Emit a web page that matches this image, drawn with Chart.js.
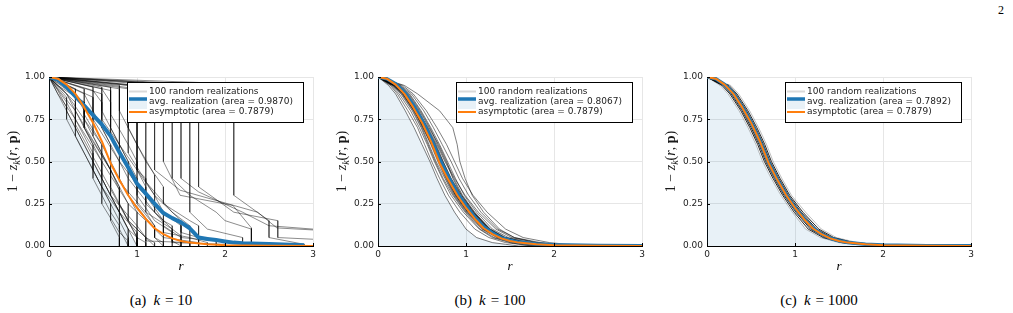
<!DOCTYPE html>
<html><head><meta charset="utf-8">
<script src="https://cdn.jsdelivr.net/npm/chart.js@4.4.1/dist/chart.umd.min.js"></script>
<style>
html,body{margin:0;padding:0;background:#fff;width:1013px;height:313px;overflow:hidden;position:relative}
canvas{position:absolute;top:60px}
.cap{position:absolute;top:291px;width:200px;text-align:center;font-family:'Liberation Serif','Times New Roman',serif;font-size:15px;line-height:18px;color:#000;white-space:nowrap}
.cap i{margin:0 5px 0 7px}
.pg{position:absolute;left:998px;top:3px;font-family:'Liberation Serif',serif;font-size:12px;color:#000}
</style></head><body>
<div class="pg">2</div>
<canvas id="ca" width="330" height="220" style="left:0px"></canvas>
<canvas id="cb" width="330" height="220" style="left:329px"></canvas>
<canvas id="cc" width="330" height="220" style="left:658px"></canvas>
<div class="cap" style="left:61px">(a)<i>k</i>= 10</div>
<div class="cap" style="left:390px">(b)<i>k</i>= 100</div>
<div class="cap" style="left:719px">(c)<i>k</i>= 1000</div>
<script>
// ---------- data ----------
const X_TICKS = [0, 1, 2, 3];
const X_TICK_LABELS = ['0', '1', '2', '3'];
const Y_TICKS = [0, 0.25, 0.5, 0.75, 1];
const Y_TICK_LABELS = ['0.00', '0.25', '0.50', '0.75', '1.00'];

const LEGEND_REAL = '100 random realizations';
const AREA_AVG = ['0.9870', '0.8067', '0.7892'];
const AREA_ASYMP = '0.7879';

// asymptotic curve (same in all panels)
const ASYMP_R = [0, 0.1, 0.2, 0.3, 0.4, 0.5, 0.6, 0.7, 0.8, 0.9, 1.0, 1.1, 1.2, 1.3, 1.4, 1.5, 1.6, 1.8, 2.0, 2.5, 3.0];
const ASYMP_Y = [1.0, 0.99, 0.955, 0.90, 0.82, 0.73, 0.62, 0.49, 0.39, 0.30, 0.225, 0.16, 0.105, 0.07, 0.045, 0.03, 0.02, 0.01, 0.005, 0.001, 0.0];

// average realization, k = 10
const AVG_A_R = [0, 0.1, 0.2, 0.3, 0.4, 0.5, 0.6, 0.7, 0.8, 0.9, 1.0, 1.1, 1.2, 1.3, 1.4, 1.5, 1.6, 1.7, 1.8, 1.9, 2.0, 2.1, 2.2, 2.5, 2.9];
const AVG_A_Y = [1.0, 0.985, 0.94, 0.885, 0.83, 0.775, 0.72, 0.65, 0.555, 0.465, 0.37, 0.31, 0.25, 0.195, 0.165, 0.14, 0.105, 0.05, 0.042, 0.035, 0.027, 0.02, 0.017, 0.012, 0.005];
// average realization, k = 100
const AVG_B_R = [0, 0.1, 0.2, 0.3, 0.4, 0.5, 0.6, 0.7, 0.8, 0.9, 1.0, 1.1, 1.2, 1.3, 1.4, 1.5, 1.6, 1.8, 2.0, 2.5, 3.0];
const AVG_B_Y = [1.0, 0.99, 0.96, 0.91, 0.835, 0.745, 0.64, 0.515, 0.41, 0.315, 0.24, 0.17, 0.115, 0.078, 0.05, 0.034, 0.023, 0.012, 0.007, 0.003, 0.001];
// average realization, k = 1000
const AVG_C_R = [0, 0.1, 0.2, 0.3, 0.4, 0.5, 0.6, 0.7, 0.8, 0.9, 1.0, 1.1, 1.2, 1.3, 1.4, 1.5, 1.6, 1.8, 2.0, 2.5, 3.0];
const AVG_C_Y = [1.0, 0.99, 0.956, 0.902, 0.823, 0.733, 0.623, 0.493, 0.393, 0.302, 0.227, 0.162, 0.107, 0.071, 0.046, 0.031, 0.021, 0.011, 0.006, 0.002, 0.001];

// realizations k = 10 : [r, y] vertices
const REAL_A = [
 [[0,1],[0.1,0.9],[1.0,0.0]],
 [[0,1],[0.1,0.92],[0.2,0.82],[0.2,0.75],[0.9,0.05],[0.9,0]],
 [[0,1],[0.2,0.9],[0.3,0.8],[0.3,0.72],[1.0,0.05],[1.0,0]],
 [[0,1],[0.3,0.9],[0.4,0.8],[0.4,0.7],[0.6,0.5],[0.6,0.4],[0.9,0.1],[1.0,0.05],[1.0,0]],
 [[0,1],[0.1,0.95],[0.4,0.85],[0.4,0.75],[0.8,0.35],[0.8,0.25],[1.0,0.05],[1.1,0.02],[1.1,0]],
 [[0,1],[0.4,0.9],[0.5,0.8],[0.5,0.65],[0.8,0.35],[0.9,0.25],[0.9,0.15],[1.1,0.05],[1.2,0.02],[1.2,0]],
 [[0,1],[0.5,0.92],[0.6,0.85],[0.6,0.7],[0.9,0.4],[0.9,0.3],[1.2,0.1],[1.3,0.05],[1.3,0]],
 [[0,1],[0.2,0.85],[0.5,0.55],[0.5,0.45],[0.7,0.25],[0.7,0.15],[0.8,0.05],[0.8,0]],
 [[0,1],[0.6,0.93],[0.7,0.85],[0.7,0.7],[1.0,0.4],[1.0,0.3],[1.2,0.15],[1.4,0.08],[1.4,0]],
 [[0,1],[0.8,0.93],[0.8,0.8],[1.0,0.6],[1.0,0.45],[1.2,0.3],[1.3,0.2],[1.3,0.12],[1.5,0.05],[1.5,0]],
 [[0,1],[1.0,0.93],[1.0,0.6],[1.2,0.42],[1.2,0.3],[1.5,0.15],[1.5,0.08],[1.7,0.05],[1.7,0]],
 [[0,1],[1.1,0.94],[1.1,0.5],[1.3,0.35],[1.3,0.25],[1.6,0.15],[1.7,0.12],[1.7,0]],
 [[0,1],[1.2,0.94],[1.2,0.45],[1.49,0.33],[2.37,0.2],[2.59,0.107],[3.0,0.095]],
 [[0,1],[1.3,0.95],[1.3,0.5],[1.49,0.30],[2.09,0.24],[2.3,0.107],[2.3,0]],
 [[0,1],[1.7,0.95],[1.7,0.35],[2.1,0.2],[2.6,0.15],[2.6,0.05],[3.0,0.04]],
 [[0,1],[2.1,0.96],[2.1,0.3],[2.5,0.15],[2.5,0.05],[2.9,0.01],[2.9,0]],
 [[0,1],[0.3,0.85],[0.3,0.75],[0.6,0.5],[0.6,0.35],[0.8,0.2],[0.9,0.1],[0.9,0]],
 [[0,1],[0.1,0.93],[0.3,0.8],[0.7,0.45],[0.7,0.3],[1.0,0.12],[1.1,0.05],[1.1,0]],
 [[0,1],[0.9,0.93],[0.9,0.7],[1.1,0.5],[1.1,0.38],[1.4,0.2],[1.6,0.12],[1.6,0.05],[1.8,0.02],[1.8,0]],
 [[0,1],[0.7,0.92],[0.7,0.78],[0.9,0.6],[1.0,0.5],[1.0,0.35],[1.3,0.2],[1.5,0.12],[1.5,0.05],[1.9,0.03],[1.9,0]],
 [[0,1],[0.5,0.88],[0.5,0.75],[0.8,0.5],[0.8,0.38],[1.1,0.2],[1.2,0.12],[1.2,0.05],[1.3,0]],
 [[0,1],[0.4,0.85],[0.4,0.7],[0.7,0.45],[0.8,0.33],[0.8,0.2],[1.0,0.08],[1.0,0]],
 [[0,1],[1.5,0.95],[1.5,0.4],[1.7,0.32],[2.2,0.2],[2.5,0.12],[3.0,0.1]],
 [[0,1],[0.2,0.9],[0.6,0.6],[0.6,0.5],[0.9,0.25],[1.1,0.15],[1.1,0.03],[1.6,0.02],[1.6,0]],
 [[0,1],[0.6,0.9],[0.6,0.75],[0.8,0.6],[0.8,0.5],[1.1,0.3],[1.1,0.2],[1.4,0.1],[1.4,0.02],[2.0,0.01],[2.0,0]],
 [[0,1],[0.3,0.93],[0.3,0.8],[0.5,0.6],[0.5,0.5],[0.8,0.2],[0.8,0.1],[0.9,0]],
 [[0,1],[0.4,0.93],[0.4,0.78],[0.6,0.6],[0.7,0.5],[0.7,0.35],[0.9,0.15],[1.0,0.1],[1.0,0]],
 [[0,1],[0.5,0.94],[0.5,0.8],[0.7,0.6],[0.7,0.5],[1.0,0.2],[1.0,0.1],[1.2,0]],
 [[0,1],[0.7,0.94],[0.7,0.65],[0.9,0.45],[1.0,0.35],[1.0,0.25],[1.2,0.12],[1.2,0.05],[1.3,0.02],[1.3,0]],
 [[0,1],[0.8,0.95],[0.8,0.6],[1.0,0.45],[1.1,0.35],[1.1,0.25],[1.3,0.15],[1.4,0.12],[1.4,0.03],[1.5,0]],
 [[0,1],[0.9,0.95],[0.9,0.55],[1.2,0.3],[1.2,0.2],[1.4,0.1],[1.5,0.06],[1.5,0]],
 [[0,1],[1.0,0.95],[1.0,0.45],[1.1,0.4],[1.1,0.3],[1.3,0.15],[1.3,0.08],[1.6,0.05],[1.6,0]],
 [[0,1],[0.2,0.88],[0.2,0.8],[0.4,0.6],[0.5,0.5],[0.5,0.4],[0.7,0.2],[0.8,0.12],[0.8,0]],
 [[0,1],[0.1,0.9],[0.3,0.75],[0.3,0.65],[0.6,0.35],[0.6,0.25],[0.8,0.08],[0.9,0.03],[0.9,0]],
 [[0,1],[0.6,0.94],[0.6,0.8],[0.9,0.5],[0.9,0.4],[1.2,0.2],[1.3,0.14],[1.3,0.05],[1.7,0.02],[1.7,0]],
 [[0,1],[1.4,0.96],[1.4,0.4],[1.6,0.3],[1.6,0.2],[1.8,0.1],[2.2,0.05],[2.2,0]],
 [[0,1],[1.6,0.96],[1.6,0.3],[1.9,0.2],[2.0,0.15],[2.3,0.1],[2.3,0]]
];
const FILL_A = [[0,1],[0.1,0.9],[1.0,0]];

// realizations k = 100 and k = 1000: r where each level is crossed
const LEVELS = [1.0, 0.95, 0.9, 0.8, 0.7, 0.6, 0.5, 0.4, 0.3, 0.2, 0.1, 0.05, 0.02, 0.01, 0.0];
const REAL_B_R = [
 [0, 0.22, 0.33, 0.46, 0.56, 0.66, 0.74, 0.83, 0.94, 1.08, 1.26, 1.42, 1.70, 1.90, 2.25],
 [0, 0.17, 0.27, 0.40, 0.50, 0.58, 0.66, 0.76, 0.86, 1.00, 1.18, 1.35, 1.55, 1.75, 2.00],
 [0, 0.25, 0.36, 0.49, 0.60, 0.70, 0.79, 0.88, 0.98, 1.12, 1.30, 1.48, 1.75, 1.95, 2.30],
 [0, 0.15, 0.24, 0.37, 0.47, 0.56, 0.64, 0.73, 0.83, 0.97, 1.15, 1.30, 1.50, 1.62, 1.80],
 [0, 0.20, 0.30, 0.44, 0.55, 0.63, 0.71, 0.81, 0.91, 1.06, 1.22, 1.40, 1.62, 1.80, 2.10],
 [0, 0.23, 0.31, 0.42, 0.52, 0.61, 0.69, 0.78, 0.88, 1.02, 1.20, 1.38, 1.60, 1.78, 2.05],
 [0, 0.18, 0.29, 0.43, 0.54, 0.64, 0.73, 0.82, 0.93, 1.08, 1.28, 1.45, 1.68, 1.88, 2.20],
 [0, 0.21, 0.32, 0.45, 0.57, 0.67, 0.76, 0.86, 0.96, 1.10, 1.27, 1.43, 1.66, 1.84, 2.15],
 [0, 0.16, 0.26, 0.39, 0.49, 0.57, 0.65, 0.74, 0.85, 0.99, 1.16, 1.32, 1.52, 1.70, 1.95],
 [0, 0.24, 0.35, 0.48, 0.59, 0.68, 0.77, 0.87, 0.99, 1.14, 1.34, 1.52, 1.80, 2.00, 2.40],
 [0, 0.19, 0.30, 0.42, 0.51, 0.60, 0.68, 0.77, 0.87, 1.01, 1.19, 1.36, 1.58, 1.76, 2.02],
 [0, 0.21, 0.31, 0.44, 0.53, 0.62, 0.70, 0.79, 0.89, 1.04, 1.21, 1.39, 1.61, 1.82, 2.12],
 [0, 0.14, 0.22, 0.34, 0.45, 0.53, 0.61, 0.70, 0.80, 0.93, 1.10, 1.26, 1.45, 1.60, 1.75],
 [0, 0.26, 0.38, 0.52, 0.63, 0.73, 0.83, 0.92, 1.03, 1.17, 1.36, 1.55, 1.85, 2.05, 2.45],
 [0, 0.20, 0.29, 0.41, 0.52, 0.61, 0.71, 0.80, 0.90, 1.05, 1.24, 1.41, 1.64, 1.86, 2.18],
 [0, 0.22, 0.34, 0.47, 0.58, 0.69, 0.78, 0.85, 0.95, 1.09, 1.25, 1.44, 1.69, 1.92, 2.28],
 [0, 0.18, 0.28, 0.41, 0.53, 0.62, 0.72, 0.80, 0.89, 1.03, 1.23, 1.37, 1.57, 1.73, 1.98],
 [0, 0.23, 0.33, 0.43, 0.55, 0.65, 0.72, 0.81, 0.92, 1.07, 1.24, 1.40, 1.63, 1.81, 2.08],
 [0, 0.12, 0.20, 0.31, 0.41, 0.50, 0.59, 0.67, 0.76, 0.87, 1.00, 1.12, 1.30, 1.45, 1.60],
 [0, 0.28, 0.40, 0.55, 0.67, 0.78, 0.87, 0.96, 1.08, 1.24, 1.45, 1.65, 1.95, 2.15, 2.50],
 [0, 0.30, 0.45, 0.70, 0.85, 0.90, 0.93, 0.99, 1.07, 1.20, 1.38, 1.55, 1.80, 2.00, 2.30],
 [0, 0.20, 0.31, 0.44, 0.54, 0.63, 0.72, 0.81, 0.92, 1.06, 1.25, 1.42, 1.66, 1.85, 2.15],
 [0, 0.19, 0.29, 0.42, 0.53, 0.63, 0.71, 0.80, 0.90, 1.04, 1.22, 1.39, 1.61, 1.79, 2.06],
 [0, 0.21, 0.32, 0.45, 0.55, 0.64, 0.73, 0.82, 0.93, 1.07, 1.26, 1.43, 1.67, 1.87, 2.22],
 [0, 0.18, 0.30, 0.43, 0.54, 0.62, 0.70, 0.79, 0.90, 1.05, 1.23, 1.40, 1.62, 1.83, 2.12],
 [0, 0.22, 0.32, 0.44, 0.56, 0.65, 0.74, 0.83, 0.95, 1.09, 1.27, 1.44, 1.70, 1.90, 2.20],
 [0, 0.17, 0.28, 0.41, 0.51, 0.61, 0.69, 0.78, 0.88, 1.02, 1.20, 1.37, 1.59, 1.77, 2.04]
];
const FILL_B_R = [0, 0.12, 0.20, 0.31, 0.41, 0.50, 0.59, 0.67, 0.76, 0.87, 1.00, 1.12, 1.30, 1.45, 1.60];
const REAL_C_R = [
 [0, 0.170, 0.260, 0.385, 0.487, 0.577, 0.652, 0.750, 0.860, 0.990, 1.150, 1.320, 1.530, 1.720, 2.20],
 [0, 0.185, 0.275, 0.400, 0.502, 0.592, 0.667, 0.765, 0.875, 1.010, 1.175, 1.345, 1.560, 1.755, 2.30],
 [0, 0.200, 0.290, 0.415, 0.517, 0.607, 0.682, 0.780, 0.890, 1.025, 1.195, 1.365, 1.585, 1.785, 2.35],
 [0, 0.220, 0.310, 0.435, 0.537, 0.627, 0.702, 0.800, 0.910, 1.055, 1.225, 1.395, 1.615, 1.815, 2.45],
 [0, 0.235, 0.325, 0.450, 0.552, 0.642, 0.717, 0.815, 0.925, 1.070, 1.245, 1.415, 1.640, 1.845, 2.50],
 [0, 0.250, 0.340, 0.465, 0.567, 0.657, 0.732, 0.830, 0.940, 1.090, 1.270, 1.440, 1.670, 1.880, 2.60],
 [0, 0.150, 0.240, 0.365, 0.467, 0.557, 0.632, 0.730, 0.840, 0.970, 1.120, 1.290, 1.500, 1.680, 2.10],
 [0, 0.270, 0.360, 0.485, 0.587, 0.677, 0.752, 0.850, 0.960, 1.120, 1.300, 1.470, 1.710, 1.920, 2.70]
];
const FILL_C_R = [0, 0.150, 0.240, 0.365, 0.467, 0.557, 0.632, 0.730, 0.840, 0.970, 1.120, 1.290, 1.500, 1.680, 2.10];
const X_MAX = 3;

// ---------- styling / building ----------
const BLUE = '#1f77b4', ORANGE = '#ff7f0e', FILLC = 'rgba(31,119,180,0.10)';
const TICK_FONT = {family: "'DejaVu Sans', sans-serif", size: 9};

const pts = (rs, ys) => rs.map((r, i) => ({x: r, y: ys[i]}));
const pairPts = arr => arr.map(p => ({x: p[0], y: p[1]}));
const levelPts = rs => pts(rs, LEVELS).concat([{x: X_MAX, y: 0}]);

function overlay(avgArea) {
  return {
    id: 'overlay',
    afterDraw(chart) {
      const ctx = chart.ctx, a = chart.chartArea;
      ctx.save();
      ctx.strokeStyle = '#000'; ctx.lineWidth = 1;
      const xs = chart.scales.x, ys = chart.scales.y;
      Y_TICKS.forEach(v => { const y = Math.round(ys.getPixelForValue(v)) + 0.5; ctx.beginPath(); ctx.moveTo(a.left, y); ctx.lineTo(a.left + 3, y); ctx.stroke(); });
      X_TICKS.forEach(v => { const x = Math.round(xs.getPixelForValue(v)) + 0.5; ctx.beginPath(); ctx.moveTo(x, a.bottom); ctx.lineTo(x, a.bottom - 3); ctx.stroke(); });
      // legend
      const w = 177, h = 41, lx = Math.round(a.right - 9 - w), ly = Math.round(a.top + 5);
      ctx.fillStyle = '#fff'; ctx.fillRect(lx, ly, w, h);
      ctx.strokeStyle = '#000'; ctx.lineWidth = 1; ctx.strokeRect(lx + 0.5, ly + 0.5, w - 1, h - 1);
      const sx0 = lx + 2, sx1 = lx + 20;
      ctx.lineCap = 'butt';
      ctx.strokeStyle = 'rgba(0,0,0,0.15)'; ctx.lineWidth = 2;
      ctx.beginPath(); ctx.moveTo(sx0, ly + 9.5); ctx.lineTo(sx1, ly + 9.5); ctx.stroke();
      ctx.fillStyle = FILLC; ctx.fillRect(sx0, ly + 18, sx1 - sx0, 9);
      ctx.strokeStyle = BLUE; ctx.lineWidth = 3.5;
      ctx.beginPath(); ctx.moveTo(sx0, ly + 17); ctx.lineTo(sx1, ly + 17); ctx.stroke();
      ctx.strokeStyle = ORANGE; ctx.lineWidth = 2;
      ctx.beginPath(); ctx.moveTo(sx0, ly + 30); ctx.lineTo(sx1, ly + 30); ctx.stroke();
      ctx.fillStyle = '#222'; ctx.font = "9px 'DejaVu Sans', sans-serif"; ctx.textBaseline = 'middle'; ctx.textAlign = 'left';
      ctx.fillText(LEGEND_REAL, lx + 22, ly + 10);
      ctx.fillText('avg. realization (area = ' + avgArea + ')', lx + 22, ly + 20);
      ctx.fillText('asymptotic (area = ' + AREA_ASYMP + ')', lx + 22, ly + 30);
      // y-axis title 1 − z_k(r, p)
      const parts = [
        ['1 − ', "14px 'Liberation Serif', serif", 0],
        ['z', "italic 14px 'Liberation Serif', serif", 0],
        ['k', "italic 10px 'Liberation Serif', serif", 3],
        ['(', "14px 'Liberation Serif', serif", 0],
        ['r', "italic 14px 'Liberation Serif', serif", 0],
        [', ', "14px 'Liberation Serif', serif", 0],
        ['p', "bold 14px 'Liberation Serif', serif", 0],
        [')', "14px 'Liberation Serif', serif", 0]
      ];
      let tot = 0;
      parts.forEach(p => { ctx.font = p[1]; tot += ctx.measureText(p[0]).width; });
      ctx.translate(12, (a.top + a.bottom) / 2);
      ctx.rotate(-Math.PI / 2);
      ctx.fillStyle = '#1a1a1a'; ctx.textBaseline = 'alphabetic';
      let cx = -tot / 2;
      parts.forEach(p => { ctx.font = p[1]; ctx.fillText(p[0], cx, 4.5 + p[2]); cx += ctx.measureText(p[0]).width; });
      ctx.restore();
    }
  };
}

function makeChart(id, realSets, realColors, fillPts, avgPts, avgWidth, avgArea) {
  const datasets = [];
  datasets.push({data: pts(ASYMP_R, ASYMP_Y), borderColor: ORANGE, borderWidth: 2, order: 0});
  datasets.push({data: avgPts, borderColor: BLUE, borderWidth: avgWidth, order: 1});
  realSets.forEach((d, i) => datasets.push({data: d, borderColor: realColors(i), borderWidth: 1, order: 2}));
  datasets.push({data: fillPts, borderWidth: 0, borderColor: 'rgba(0,0,0,0)', backgroundColor: FILLC, fill: 'origin', order: 3});
  return new Chart(document.getElementById(id), {
    type: 'line',
    data: {datasets},
    options: {
      responsive: false, animation: false, devicePixelRatio: 1, parsing: false,
      layout: {padding: {top: 17, right: 17, left: 0, bottom: 0}},
      plugins: {legend: {display: false}, tooltip: {enabled: false}},
      elements: {point: {radius: 0}, line: {tension: 0, borderJoinStyle: 'round'}},
      scales: {
        x: {
          type: 'linear', min: 0, max: X_MAX,
          afterBuildTicks: s => { s.ticks = X_TICKS.map(v => ({value: v})); },
          afterFit: s => { s.height = 34; },
          ticks: {padding: 3, font: TICK_FONT, color: '#222', maxRotation: 0,
                  callback: (v) => X_TICK_LABELS[X_TICKS.indexOf(v)]},
          grid: {color: '#e6e6e6', drawTicks: false, lineWidth: 1},
          border: {display: true, color: '#000', width: 1},
          title: {display: true, text: 'r', color: '#000',
                  font: {family: "'Liberation Serif', serif", style: 'italic', size: 13},
                  padding: {top: 0, bottom: 6}}
        },
        y: {
          type: 'linear', min: 0, max: 1,
          afterBuildTicks: s => { s.ticks = Y_TICKS.map(v => ({value: v})); },
          afterFit: s => { s.width = 49; },
          ticks: {padding: 4, font: TICK_FONT, color: '#222',
                  callback: (v) => Y_TICK_LABELS[Y_TICKS.indexOf(v)]},
          grid: {color: '#e6e6e6', drawTicks: false, lineWidth: 1},
          border: {display: true, color: '#000', width: 1}
        }
      }
    },
    plugins: [overlay(avgArea)]
  });
}

makeChart('ca', REAL_A.map(pairPts), () => 'rgba(0,0,0,0.45)', pairPts(FILL_A), pts(AVG_A_R, AVG_A_Y), 4, AREA_AVG[0]);
makeChart('cb', REAL_B_R.map(levelPts), () => 'rgba(0,0,0,0.5)', levelPts(FILL_B_R), pts(AVG_B_R, AVG_B_Y), 3.5, AREA_AVG[1]);
makeChart('cc', REAL_C_R.map(levelPts), i => i < 6 ? 'rgba(0,0,0,0.85)' : 'rgba(0,0,0,0.25)', levelPts(FILL_C_R), pts(AVG_C_R, AVG_C_Y), 3.5, AREA_AVG[2]);
</script>
</body></html>
